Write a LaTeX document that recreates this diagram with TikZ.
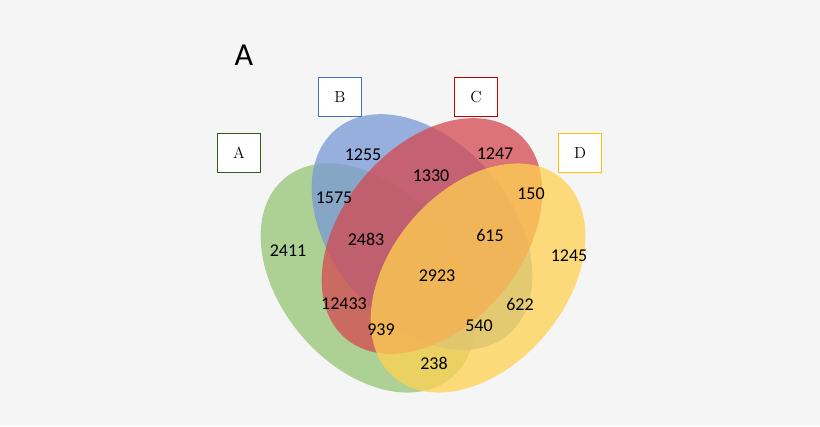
\documentclass[tikz,border=0pt]{standalone}
\usepackage{fontspec}
\setsansfont{Carlito}
\usepackage{tikz}
\definecolor{bgcol}{RGB}{245,245,245}
\definecolor{setA}{RGB}{150,196,118}
\definecolor{setB}{RGB}{120,152,214}
\definecolor{setC}{RGB}{212,72,80}
\definecolor{setD}{RGB}{255,210,80}
\definecolor{boxA}{RGB}{56,87,35}
\definecolor{boxB}{RGB}{68,114,196}
\definecolor{boxC}{RGB}{192,0,0}
\definecolor{boxD}{RGB}{255,192,0}
\tikzset{
  setlabel/.style={draw,line width=1pt,fill=white,minimum width=32pt,minimum height=29pt,inner sep=0pt,font=\large},
  count/.style={font=\sffamily\fontsize{13.5}{15}\selectfont,inner sep=0.75pt},
  venn/.style={fill opacity=0.75,draw=none}
}
\begin{document}
\begin{tikzpicture}[x=0.75pt,y=0.75pt,yscale=-1,xscale=1]
    \fill[bgcol] (0,0) rectangle (820,426);
    \useasboundingbox (0,0) rectangle (820,426);

    %Ellipses
    \fill[venn,setA,rotate around={50:(368,278)}] (368,278) ellipse (130 and 88);
    \fill[venn,setB,rotate around={50:(422,232)}] (422,232) ellipse (134 and 90);
    \fill[venn,setC,rotate around={-50:(432,236)}] (432,236) ellipse (134 and 90);
    \fill[venn,setD,rotate around={-50:(478,278)}] (478,278) ellipse (130 and 88);

    % Title
    \node (title) at (244,55) {\sffamily\fontsize{24}{28}\selectfont A};
    % Set labels
    \node[setlabel,draw=boxA] (labA) at (239,153) {A};
    \node[setlabel,draw=boxB] (labB) at (340,97) {B};
    \node[setlabel,draw=boxC] (labC) at (476,97) {C};
    \node[setlabel,draw=boxD] (labD) at (580,153) {D};

    % Counts
    \node[count] (nB) at (363,155) {1255};
    \node[count] (nC) at (495,154) {1247};
    \node[count] (nBC) at (431,176) {1330};
    \node[count] (nAB) at (334,198) {1575};
    \node[count] (nCD) at (531,194) {150};
    \node[count] (nA) at (288,251) {2411};
    \node[count] (nABC) at (366,239) {2483};
    \node[count] (nBCD) at (490,235) {615};
    \node[count] (nD) at (569,256) {1245};
    \node[count] (nABCD) at (437,276) {2923};
    \node[count] (nAC) at (344,304) {12433};
    \node[count] (nBD) at (520,304) {622};
    \node[count] (nACD) at (381,330) {939};
    \node[count] (nABD) at (479,326) {540};
    \node[count] (nAD) at (434,363) {238};
\end{tikzpicture}
\end{document}
